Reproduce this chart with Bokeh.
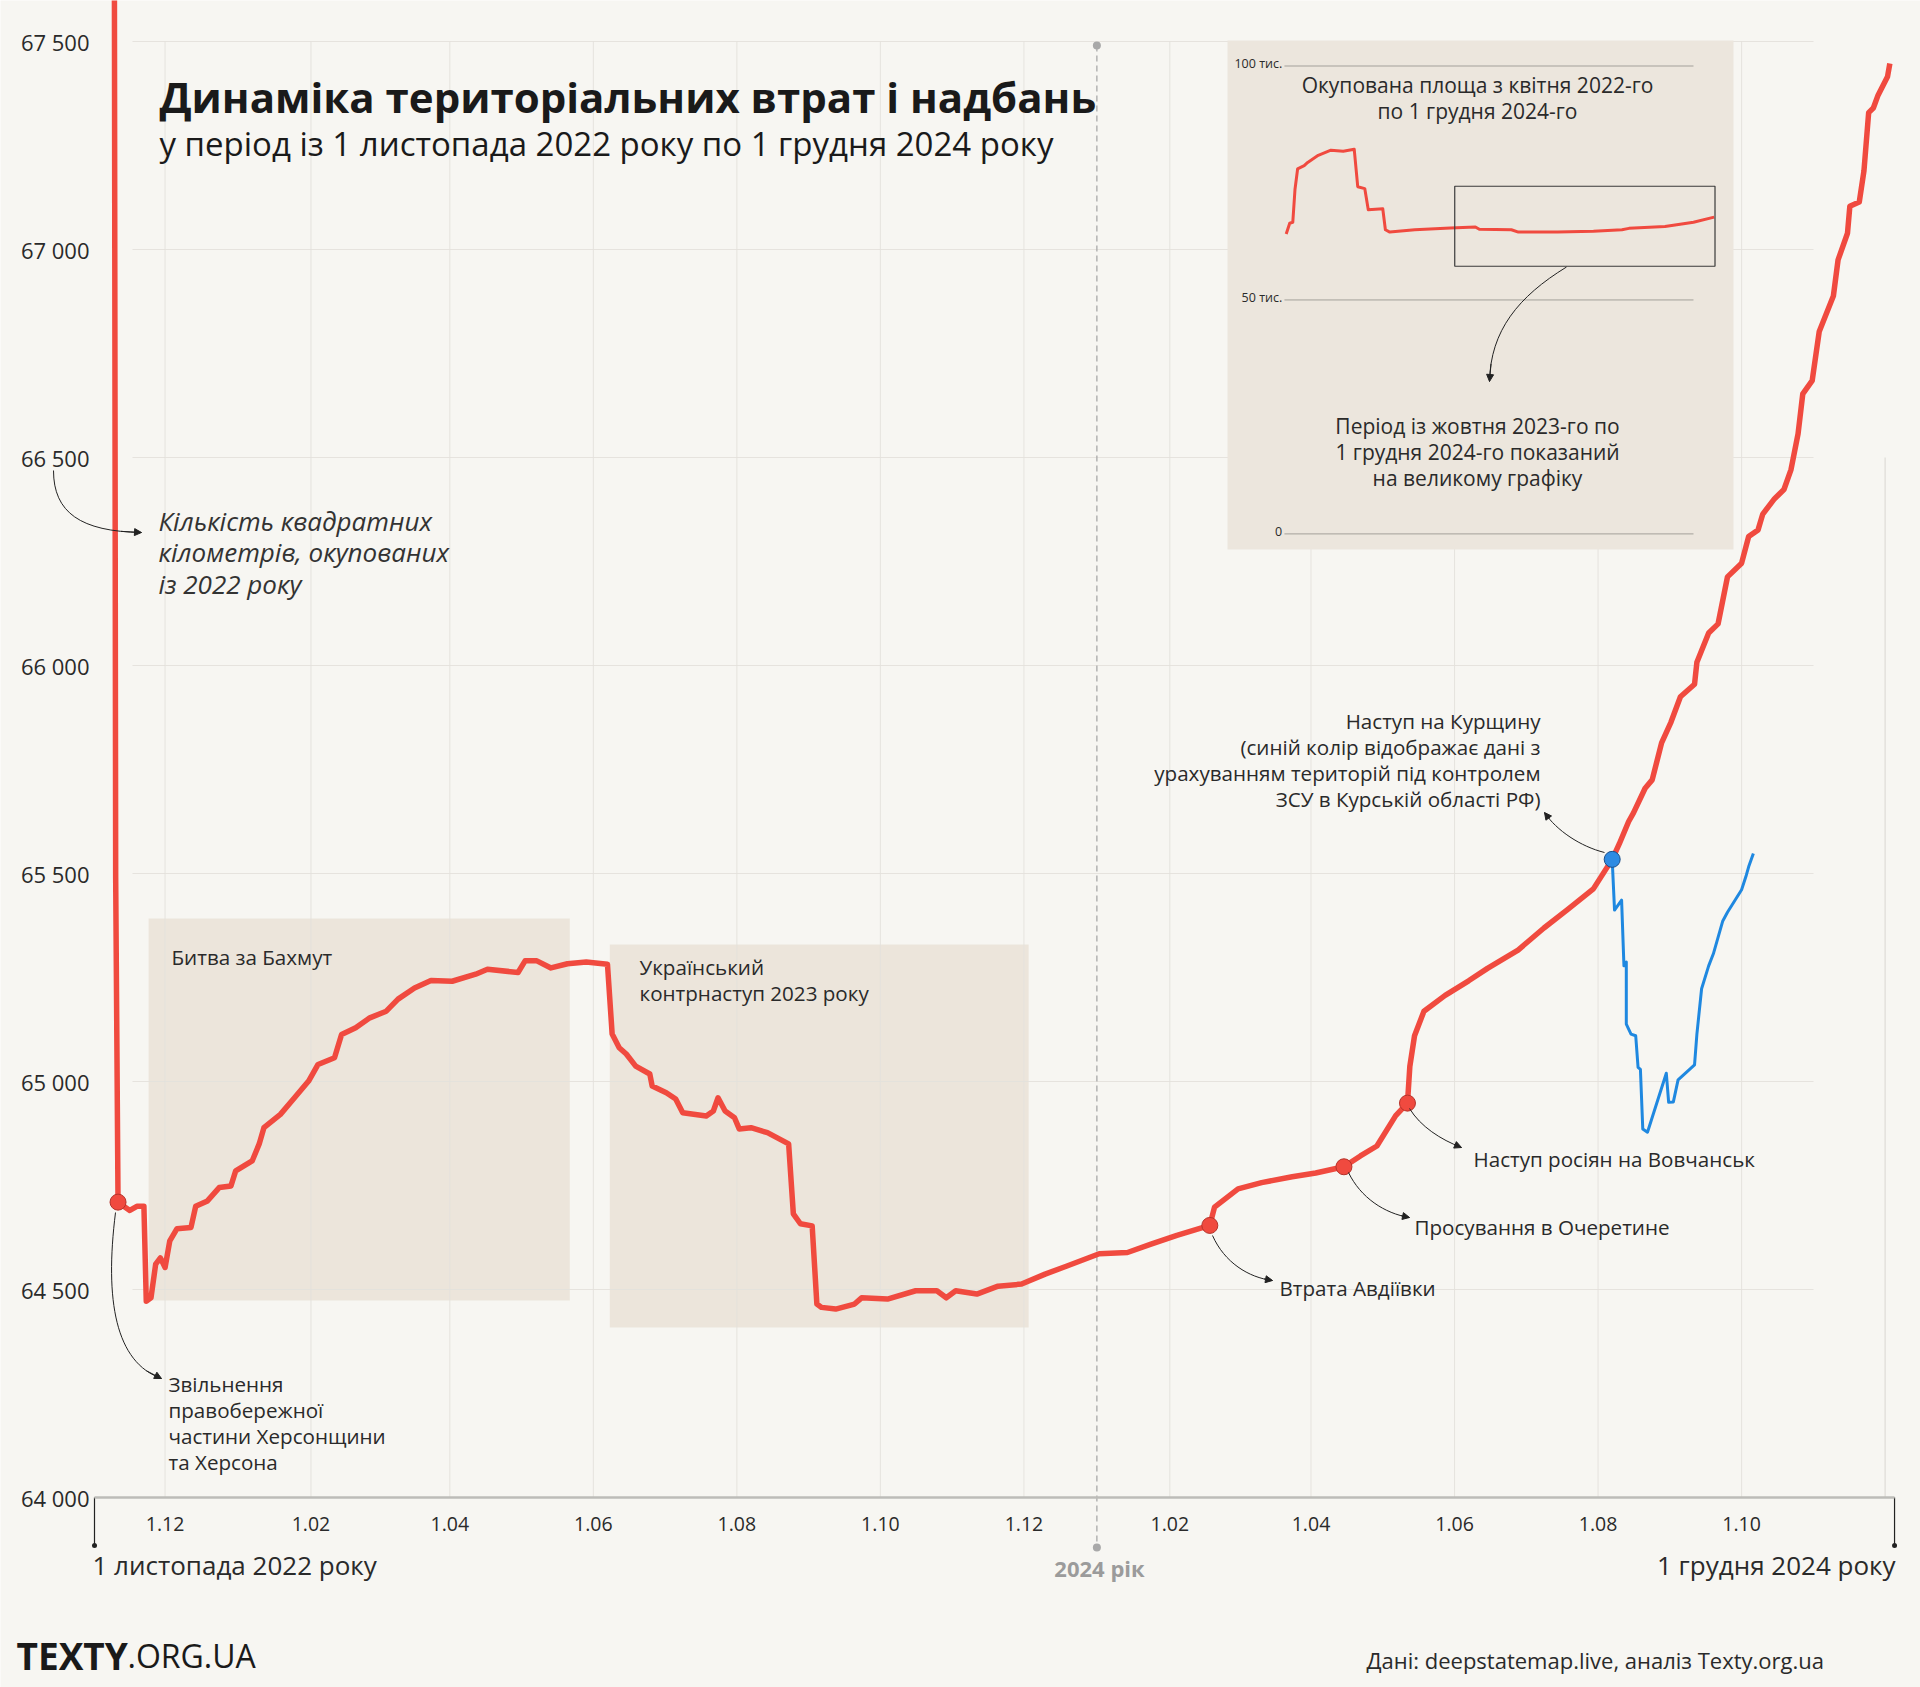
import numpy as np
import pandas as pd
from bokeh.plotting import figure
from bokeh.models import Range1d, FixedTicker, LinearAxis, Arrow, NormalHead
from bokeh.core.properties import value
from bokeh.embed import file_html
from bokeh.resources import INLINE

# ---------------- DATA ----------------
# Main series: days since 1 Nov 2022, occupied area, km²
main_day = [0, 8, 9, 10, 15, 18, 21, 22, 24, 26,
            28, 30, 32, 35, 41, 43, 48, 53, 58, 60,
            67, 70, 72, 79, 85, 91, 95, 102, 105, 111,
            117, 124, 129, 136, 143, 152, 162, 167, 180, 183,
            188, 194, 201, 209, 218, 220, 223, 226, 230, 236,
            237, 243, 247, 250, 260, 263, 265, 268, 272, 274,
            279, 286, 291, 295, 297, 300, 305, 307, 309, 315,
            323, 326, 337, 349, 358, 362, 366, 375, 384, 394,
            404, 413, 427, 439, 449, 460, 474, 476, 486, 496,
            509, 519, 531, 538, 545, 553, 558, 559, 561, 565,
            574, 584, 592, 605, 616, 626, 637, 645, 648, 652,
            654, 659, 662, 666, 670, 674, 680, 681, 686, 690,
            694, 700, 703, 707, 709, 714, 718, 721, 724, 726,
            730, 733, 739, 741, 745, 746, 750, 752, 754, 756,
            758, 762, 763]
main_val = [69500, 69480, 65490, 64710, 64690, 64700, 64700, 64472, 64480, 64561,
            64576, 64553, 64617, 64646, 64649, 64700, 64713, 64745, 64749, 64785,
            64809, 64850, 64889, 64921, 64961, 65001, 65041, 65057, 65113, 65129,
            65153, 65169, 65198, 65225, 65243, 65241, 65258, 65270, 65262, 65290,
            65290, 65273, 65283, 65287, 65282, 65114, 65081, 65066, 65037, 65018,
            64989, 64973, 64958, 64925, 64917, 64929, 64961, 64929, 64913, 64886,
            64889, 64877, 64862, 64850, 64682, 64658, 64653, 64465, 64457, 64453,
            64465, 64480, 64477, 64497, 64497, 64480, 64497, 64489, 64508, 64513,
            64537, 64556, 64586, 64589, 64609, 64630, 64654, 64698, 64742, 64757,
            64771, 64780, 64795, 64821, 64845, 64918, 64948, 65036, 65110, 65169,
            65207, 65242, 65272, 65316, 65369, 65413, 65463, 65534, 65571, 65625,
            65645, 65705, 65725, 65814, 65864, 65925, 65955, 66008, 66078, 66100,
            66213, 66246, 66310, 66326, 66364, 66401, 66423, 66471, 66557, 66653,
            66685, 66803, 66888, 66975, 67039, 67104, 67114, 67189, 67329, 67340,
            67371, 67415, 67447]

# Blue series (incl. territory held by Ukraine in Kursk region)
blue_day = [645, 646, 649, 650, 651, 651, 653, 655, 656, 657,
            658, 660, 668, 669, 671, 673, 680, 681, 683, 686,
            688, 692, 694, 700, 702, 703, 705]
blue_val = [65534, 65412, 65436, 65278, 65287, 65138, 65114, 65110, 65034, 65029,
            64886, 64878, 65020, 64950, 64951, 65004, 65040, 65114, 65223, 65278,
            65307, 65386, 65407, 65461, 65496, 65516, 65548]

# Inset: days since 1 Apr 2022, thousand km²
inset_day = [0, 8, 15, 20, 26, 41, 49, 73, 102, 130,
             155, 163, 179, 187, 220, 226, 236, 293, 374, 431,
             440, 513, 529, 618, 700, 765, 781, 863, 928, 975]
inset_val = [64.1, 66.4, 66.6, 73.6, 78.0, 78.7, 79.4, 80.9, 82.0, 81.8,
             82.2, 74.2, 73.8, 69.3, 69.5, 65.0, 64.5, 65.0, 65.4, 65.6,
             65.1, 65.0, 64.5, 64.5, 64.7, 65.0, 65.3, 65.7, 66.6, 67.7]
inset_grid = [0, 50, 100]
inset_grid_labels = ["0", "50 тис.", "100 тис."]
inset_box_days = (384, 977)
inset_box_vals = (57.2, 74.3)

# Events marked with dots (days since 1 Nov 2022)
event_days = [10, 474, 531, 558]
kursk_day = 645

# Periods shaded
shade_start = ["2022-11-24", "2023-06-08"]
shade_end = ["2023-05-22", "2023-12-03"]

# Axes
yticks = [64000, 64500, 65000, 65500, 66000, 66500, 67000, 67500]
ytick_labels = ["64 000", "64 500", "65 000", "65 500", "66 000", "66 500", "67 000", "67 500"]
xtick_dates = ["2022-12-01", "2023-02-01", "2023-04-01", "2023-06-01", "2023-08-01", "2023-10-01",
               "2023-12-01", "2024-02-01", "2024-04-01", "2024-06-01", "2024-08-01", "2024-10-01"]
xtick_labels = ["1.12", "1.02", "1.04", "1.06", "1.08", "1.10",
                "1.12", "1.02", "1.04", "1.06", "1.08", "1.10"]
year_mark = "2024-01-01"
last_grid = "2024-12-01"
axis_start = "2022-11-01"
axis_end = "2024-12-05"

# ---------------- STYLE / LAYOUT ----------------
BG = "#F7F6F2"
SHADE = "#ECE5DB"
INSET_BG = "#ECE6DD"
GRID = "#E3E1DC"
INK = "#2A2A2A"
RED = "#F04A3F"
RED_DARK = "#B5322A"
BLUE = "#1F88E0"
FONT = "Open Sans"

W, H = 1920, 1687
PAGE = 0
X0_PX, PX_PER_DAY = 94.0, 2.353
Y0_PX, PX_PER_KM = 1497.0, 0.416
MS_DAY = 86_400_000
BASE_MS = pd.Timestamp(axis_start).value // 10**6


def xpx(xp):
    return BASE_MS + (xp - X0_PX) / PX_PER_DAY * MS_DAY


def ypx(yp):
    return 64000 + (Y0_PX - yp) / PX_PER_KM


def to_ms(dates):
    return [pd.Timestamp(d).value // 10**6 for d in dates]


def day_ms(days):
    return [BASE_MS + d * MS_DAY for d in days]


p = figure(width=W, height=H,
           x_range=Range1d(xpx(PAGE), xpx(PAGE + W)),
           y_range=Range1d(ypx(PAGE + H), ypx(PAGE)),
           x_axis_type=None, y_axis_type=None,
           output_backend="svg", toolbar_location=None, min_border=0,
           background_fill_color=BG, border_fill_color=BG, outline_line_color=None)

# inset scales
IN_X0_PX, IN_PX_DAY = 1285.7, 0.4389
IN_Y0_PX, IN_PX_K = 533.4, 4.679
p.extra_x_ranges = {"inset": Range1d(-(IN_X0_PX - PAGE) / IN_PX_DAY, (PAGE + W - IN_X0_PX) / IN_PX_DAY)}
p.extra_y_ranges = {"inset": Range1d(-(PAGE + H - IN_Y0_PX) / IN_PX_K, (IN_Y0_PX - PAGE) / IN_PX_K)}

# axes
xt_ms = to_ms(xtick_dates)
xaxis = LinearAxis(fixed_location=64000, ticker=FixedTicker(ticks=xt_ms),
                   major_label_overrides=dict(zip(xt_ms, xtick_labels)),
                   bounds=(BASE_MS, to_ms([axis_end])[0]),
                   axis_line_color="#BDBCB8", axis_line_width=2.5,
                   major_tick_line_color=None, minor_tick_line_color=None,
                   major_tick_out=0, major_tick_in=0,
                   major_label_standoff=19, major_label_text_font=FONT,
                   major_label_text_font_size="19.5px", major_label_text_color=INK)
p.add_layout(xaxis, "below")
yaxis = LinearAxis(fixed_location=BASE_MS, ticker=FixedTicker(ticks=yticks),
                   major_label_overrides=dict(zip(yticks, ytick_labels)),
                   axis_line_color=None, major_tick_line_color=None, minor_tick_line_color=None,
                   major_tick_out=0, major_tick_in=0,
                   major_label_standoff=5, major_label_text_font=FONT,
                   major_label_text_font_size="22px", major_label_text_color=INK)
p.add_layout(yaxis, "left")

# shaded periods
p.quad(left=to_ms(shade_start), right=to_ms(shade_end),
       top=[ypx(918), ypx(944)], bottom=[ypx(1300), ypx(1327)],
       fill_color=SHADE, line_color=None)

# gridlines
hy = yticks[1:]
p.segment(x0=[xpx(132)] * len(hy), x1=[xpx(1813)] * len(hy), y0=hy, y1=hy,
          line_color=GRID, line_width=1, line_alpha=0.9)
p.segment(x0=xt_ms, x1=xt_ms, y0=[yticks[0]] * len(xt_ms), y1=[yticks[-1]] * len(xt_ms),
          line_color=GRID, line_width=1, line_alpha=0.9)
lg = to_ms([last_grid])
p.segment(x0=lg, x1=lg, y0=[yticks[0]], y1=[ypx(457)], line_color=GRID, line_width=1.5)

# year mark dashed line
ym = to_ms([year_mark])
p.segment(x0=ym, x1=ym, y0=[ypx(45)], y1=[ypx(1547)], line_color="#A9A9A9",
          line_width=1.3, line_dash="6 4")
p.scatter(x=ym * 2, y=[ypx(45), ypx(1547)], size=8, fill_color="#A9A9A9", line_color=None)

# axis end ticks
ends = to_ms([axis_start, axis_end])
p.segment(x0=ends, x1=ends, y0=[yticks[0]] * 2, y1=[ypx(1545)] * 2, line_color="#222222", line_width=1.2)
p.scatter(x=ends, y=[ypx(1545)] * 2, size=5, fill_color="#222222", line_color=None)

# inset panel
p.quad(left=[xpx(1227)], right=[xpx(1733)], top=[ypx(40)], bottom=[ypx(549)],
       fill_color=INSET_BG, line_color=None)

# main series
mx = day_ms(main_day)
p.line(mx, main_val, line_color=RED, line_width=5.5, line_join="round")
p.line(day_ms(blue_day), blue_val, line_color=BLUE, line_width=3, line_join="round")

ev_vals = np.interp(event_days, main_day, main_val)
p.scatter(x=day_ms(event_days), y=ev_vals, size=16, fill_color=RED, line_color=RED_DARK, line_width=1)
p.scatter(x=day_ms([kursk_day]), y=[blue_val[0]], size=16, fill_color="#2E8BE2",
          line_color="#1B4F8A", line_width=1)

# inset contents
p.segment(x0=[-4] * 3, x1=[928] * 3, y0=inset_grid, y1=inset_grid, line_color="#A3A09A",
          line_width=1, x_range_name="inset", y_range_name="inset")
p.line(inset_day, inset_val, line_color=RED, line_width=3, line_join="round",
       x_range_name="inset", y_range_name="inset")
p.quad(left=[inset_box_days[0]], right=[inset_box_days[1]], bottom=[inset_box_vals[0]],
       top=[inset_box_vals[1]], fill_color=None, line_color="#3A3A3A", line_width=1.2,
       x_range_name="inset", y_range_name="inset")
p.text(x=[-9] * 3, y=[g + 0.6 for g in inset_grid], text=inset_grid_labels, text_font=value(FONT),
       text_font_size=value("12.5px"), text_align=value("right"), text_baseline=value("middle"),
       text_color=INK, x_range_name="inset", y_range_name="inset")


# ---------------- helpers for annotation layout ----------------
def label(xp, yp, lines, size, align="left", color=INK, style="normal", lh=None, font=FONT):
    if isinstance(lines, str):
        lines = [lines]
    lh = lh or size * 1.3
    p.text(x=[xpx(xp)] * len(lines), y=[ypx(yp + i * lh) for i in range(len(lines))],
           text=lines, text_font=value(font), text_font_size=value(f"{size}px"),
           text_align=value(align), text_baseline=value("middle"), text_color=color,
           text_font_style=value(style))


def curve(p0, c0, c1, p1, head=True):
    p.bezier(x0=[xpx(p0[0])], y0=[ypx(p0[1])], x1=[xpx(p1[0])], y1=[ypx(p1[1])],
             cx0=[xpx(c0[0])], cy0=[ypx(c0[1])], cx1=[xpx(c1[0])], cy1=[ypx(c1[1])],
             line_color="#222222", line_width=1)
    if head:
        t = 0.88
        bx = ((1 - t) ** 3 * p0[0] + 3 * (1 - t) ** 2 * t * c0[0] + 3 * (1 - t) * t ** 2 * c1[0] + t ** 3 * p1[0])
        by = ((1 - t) ** 3 * p0[1] + 3 * (1 - t) ** 2 * t * c0[1] + 3 * (1 - t) * t ** 2 * c1[1] + t ** 3 * p1[1])
        p.add_layout(Arrow(end=NormalHead(size=7, fill_color="#222222", line_color="#222222"),
                           x_start=xpx(bx), y_start=ypx(by), x_end=xpx(p1[0]), y_end=ypx(p1[1]),
                           line_color="#222222", line_width=1))


ANN = 20.6

# Title
label(159, 96, "Динаміка територіальних втрат і надбань", 42, color="#1A1A1A", style="bold")
label(159, 143, "у період із 1 листопада 2022 року по 1 грудня 2024 року", 33, color="#1A1A1A")

# Annotations
label(158, 520, ["Кількість квадратних", "кілометрів, окупованих", "із 2022 року"], 26,
      style="italic", lh=31.5, color="#333333")
curve((53, 470), (53, 512), (80, 531), (141, 532))

label(168, 1383, ["Звільнення", "правобережної", "частини Херсонщини", "та Херсона"], ANN, lh=26.2)
curve((115, 1212), (104, 1300), (115, 1362), (161, 1378))

label(171, 956, "Битва за Бахмут", ANN)
label(639, 966, ["Український", "контрнаступ 2023 року"], ANN, lh=26)

label(1279, 1287, "Втрата Авдіївки", ANN)
curve((1212, 1235), (1224, 1262), (1248, 1277), (1272, 1280))
label(1414, 1226, "Просування в Очеретине", ANN)
curve((1348, 1172), (1360, 1197), (1384, 1213), (1409, 1217))
label(1473, 1158, "Наступ росіян на Вовчанськ", ANN)
curve((1409, 1108), (1420, 1126), (1440, 1139), (1461, 1147))

label(1540, 720, ["Наступ на Курщину", "(синій колір відображає дані з",
                  "урахуванням територій під контролем", "ЗСУ в Курській області РФ)"],
      ANN, align="right", lh=26)
curve((1604, 852), (1580, 846), (1556, 830), (1544, 812))

# Inset text
label(1477, 84, ["Окупована площа з квітня 2022-го", "по 1 грудня 2024-го"], 21, align="center", lh=26.5)
label(1477, 425, ["Період із жовтня 2023-го по", "1 грудня 2024-го показаний", "на великому графіку"],
      21, align="center", lh=26)
curve((1566, 266.5), (1518, 296), (1490, 330), (1489, 381))

# Axis end labels
label(92, 1564, "1 листопада 2022 року", 26)
label(1895, 1564, "1 грудня 2024 року", 26, align="right")
label(1099, 1567, "2024 рік", 22, align="center", color="#9B9B9B", style="bold")

# Footer
label(16, 1655, "TEXTY", 37, color="#1A1A1A", style="bold")
label(127, 1655, ".ORG.UA", 32, color="#1A1A1A")
label(1366, 1659, "Дані: deepstatemap.live, аналіз Texty.org.ua", 22)

open("out.html", "w").write(file_html(p, INLINE))
